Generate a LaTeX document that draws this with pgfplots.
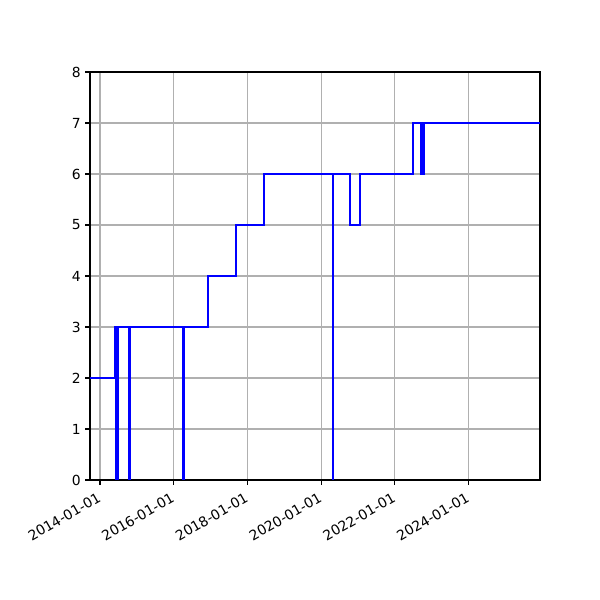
\documentclass[border=0pt]{standalone}
\usepackage{fontspec}
\setmainfont{DejaVu Sans}
\usepackage{pgfplots}
\pgfplotsset{compat=1.18}
\begin{document}
\begin{tikzpicture}[x=1pt,y=1pt]
% 1 px of the 600 px reference = 0.72 pt
\path[use as bounding box] (0,0) rectangle (432,432);
\begin{axis}[
    at={(64.8pt,86.4pt)}, anchor=south west,
    scale only axis,
    width=324pt, height=293.76pt,
    xmin=2013.73, xmax=2025.94,
    ymin=0, ymax=8,
    ytick={0,1,2,3,4,5,6,7,8},
    xtick={2014,2016,2018,2020,2022,2024},
    xticklabels={2014-01-01,2016-01-01,2018-01-01,2020-01-01,2022-01-01,2024-01-01},
    xtick pos=lower, ytick pos=left,
    xticklabel style={rotate=30, anchor=north east, inner sep=1pt, xshift=-3.5pt, yshift=-2pt},
    yticklabel style={inner sep=1pt, xshift=-2pt},
    /pgf/number format/assume math mode=true,
    tick label style={font=\fontsize{10}{12}\selectfont},
    tick align=outside, major tick length=3.5pt,
    tick style={black, line width=0.8pt},
    axis line style={line width=0.8pt},
    grid=major,
    major grid style={color=black!31, line width=0.8pt},
    clip=true]
\addplot[const plot, color=blue, line width=1.5pt] coordinates {
  (2013.73,2)
  (2014.42,3)
  (2014.45,0)
  (2014.50,3)
  (2014.80,0)
  (2014.81,3)
  (2016.25,0)
  (2016.27,3)
  (2016.94,4)
  (2017.70,5)
  (2018.44,6)
  (2020.32,0)
  (2020.33,6)
  (2020.79,5)
  (2021.05,6)
  (2022.49,7)
  (2022.71,6)
  (2022.78,7)
  (2025.94,7)
};
\end{axis}
\end{tikzpicture}
\end{document}
